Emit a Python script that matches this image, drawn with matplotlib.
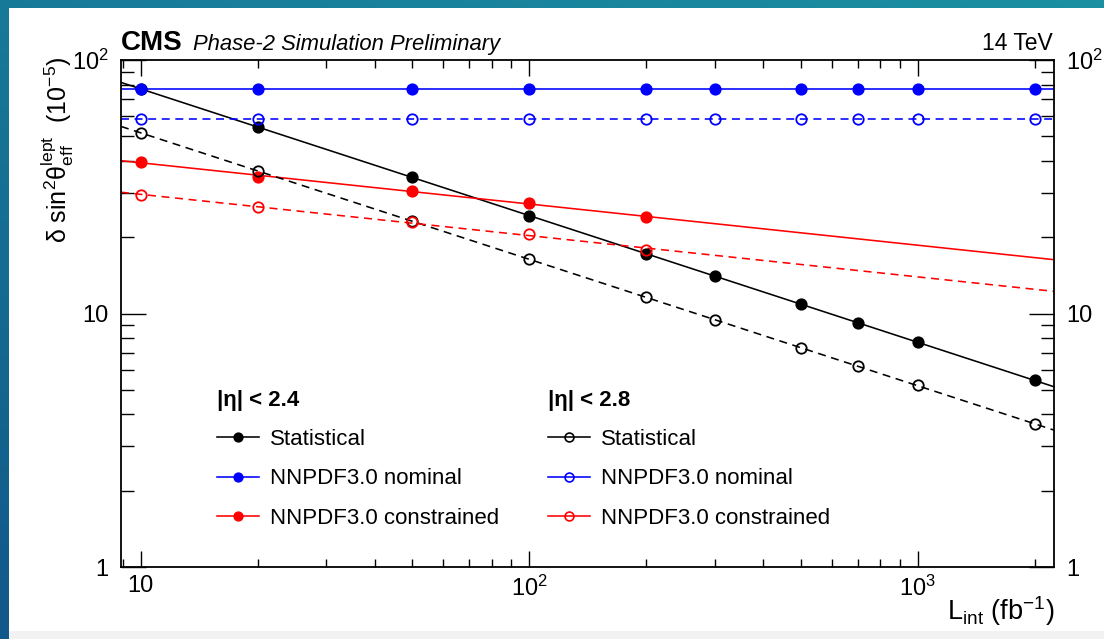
import numpy as np
import matplotlib
matplotlib.use("Agg")
import matplotlib.pyplot as plt
from matplotlib.lines import Line2D
from matplotlib.patches import Rectangle
from matplotlib.ticker import FixedLocator, FixedFormatter, NullFormatter, LogLocator

plt.rcParams['font.family'] = ['Liberation Sans', 'DejaVu Sans']
plt.rcParams['mathtext.fontset'] = 'custom'
plt.rcParams['mathtext.rm'] = 'Liberation Sans'
plt.rcParams['mathtext.it'] = 'Liberation Sans:italic'
plt.rcParams['mathtext.bf'] = 'Liberation Sans:bold'

# ---------------- data ----------------
lumi = [10, 20, 50, 100, 200, 300, 500, 700, 1000, 2000]
lumi_pdf_constr = [10, 20, 50, 100, 200]

stat_24 = [77, 54.5, 34.5, 24.2, 17.2, 14.0, 10.9, 9.2, 7.7, 5.45]
nominal_24 = [77, 77, 77, 77, 77, 77, 77, 77, 77, 77]
constr_24 = [39.6, 34.6, 30.4, 27.3, 24.0]

stat_28 = [51.5, 36.5, 23.2, 16.4, 11.6, 9.4, 7.3, 6.2, 5.2, 3.67]
nominal_28 = [58.5, 58.5, 58.5, 58.5, 58.5, 58.5, 58.5, 58.5, 58.5, 58.5]
constr_28 = [29.3, 26.3, 23.0, 20.6, 17.8]

legend_labels = ["Statistical", "NNPDF3.0 nominal", "NNPDF3.0 constrained"]
xtick_vals = [10, 100, 1000]
xtick_labels = ["10", "$10^{2}$", "$10^{3}$"]
ytick_vals = [1, 10, 100]
ytick_labels = ["1", "10", "$10^{2}$"]

xlim = (8.9, 2240)
ylim = (1, 100)

W, H = 1104, 639
fig = plt.figure(figsize=(W / 100, H / 100), dpi=100)

# background gradient + white panel
bg = fig.add_axes([0, 0, 1, 1], zorder=-5)
bg.set_axis_off()
gy, gx = np.mgrid[0:1:200j, 0:1:200j]
t = np.clip(0.6 * gy + 0.4 * (1 - gx), 0, 1)  # 0 top-right, 1 bottom-left
c_top = np.array([0x1b, 0x90, 0xa2]) / 255
c_bot = np.array([0x12, 0x58, 0x8a]) / 255
img = c_top[None, None, :] * (1 - t[..., None]) + c_bot[None, None, :] * t[..., None]
bg.imshow(img, extent=[0, 1, 0, 1], aspect='auto', origin='upper')
bg.add_patch(Rectangle((9 / W, 0), 1, 1 - 8 / H, transform=bg.transAxes,
                       facecolor='white', edgecolor='none'))
bg.add_patch(Rectangle((9 / W, 0), 1, 8 / H, transform=bg.transAxes,
                       facecolor='#f2f2f2', edgecolor='none'))
bg.set_xlim(0, 1)
bg.set_ylim(0, 1)

ax = fig.add_axes([121 / W, 1 - 567 / H, (1054 - 121) / W, (567 - 60) / H])
ax.set_xscale('log')
ax.set_yscale('log')
ax.set_xlim(*xlim)
ax.set_ylim(*ylim)

lw = 1.15
ms = 7.5


def fit_line(x, y):
    p = np.polyfit(np.log10(x), np.log10(y), 1)
    xx = np.array(xlim)
    return xx, 10 ** np.polyval(p, np.log10(xx))


series = [
    (lumi, stat_24, 'black', '-', True),
    (lumi, nominal_24, '#0000ff', '-', True),
    (lumi_pdf_constr, constr_24, '#ff0000', '-', True),
    (lumi, stat_28, 'black', '--', False),
    (lumi, nominal_28, '#0000ff', '--', False),
    (lumi_pdf_constr, constr_28, '#ff0000', '--', False),
]
for x, y, c, ls, filled in series:
    xx, yy = fit_line(x, y)
    if ls == '--':
        ax.plot(xx, yy, color=c, lw=lw, dashes=(5, 3.5), zorder=2)
    else:
        ax.plot(xx, yy, color=c, lw=lw, zorder=2)
    ax.plot(x, y, linestyle='none', marker='o', ms=ms,
            markerfacecolor=c if filled else 'none', markeredgecolor=c,
            markeredgewidth=1.3, zorder=3)

# ticks
ax.xaxis.set_major_locator(FixedLocator(xtick_vals))
ax.xaxis.set_major_formatter(FixedFormatter(xtick_labels))
ax.xaxis.set_minor_locator(LogLocator(base=10, subs=np.arange(2, 10)))
ax.xaxis.set_minor_formatter(NullFormatter())
ax.yaxis.set_major_locator(FixedLocator(ytick_vals))
ax.yaxis.set_major_formatter(FixedFormatter(ytick_labels))
ax.yaxis.set_minor_locator(LogLocator(base=10, subs=np.arange(2, 10)))
ax.yaxis.set_minor_formatter(NullFormatter())

ax.tick_params(which='both', direction='in', top=True, right=True,
               labelright=True, width=1.0, labelsize=17, colors='black')
ax.tick_params(axis='x', which='major', length=11.5, pad=6)
ax.tick_params(axis='x', which='minor', length=5.8)
ax.tick_params(axis='y', which='major', length=18, pad=9)
ax.tick_params(axis='y', which='minor', length=9.4)
for s in ax.spines.values():
    s.set_linewidth(1.3)

# axis titles
fig.text(57 / W, 1 - 57 / H,
         r'δ sin$^{2}$$\mathrm{θ}^{\mathrm{lept}}_{\mathrm{eff}}$  (10$^{-5}$)',
         rotation=90, ha='center', va='top', fontsize=18)
fig.text(1054 / W, 1 - 611 / H, r'L$_{\mathrm{int}}$ (fb$^{-1}$)',
         ha='right', va='center', fontsize=19.5)

# header
fig.text(121 / W, 1 - 50 / H, 'CMS', fontsize=20, fontweight='bold',
         ha='left', va='baseline')
fig.text(193 / W, 1 - 50 / H, 'Phase-2 Simulation Preliminary', fontsize=15.8,
         style='italic', ha='left', va='baseline')
fig.text(1053 / W, 1 - 50 / H, '14 TeV', fontsize=16.5, ha='right', va='baseline')

# legends
h_filled = [Line2D([], [], color=c, lw=lw, marker='o', ms=ms * 0.85,
                   markerfacecolor=c, markeredgecolor=c)
            for c in ['black', '#0000ff', '#ff0000']]
h_open = [Line2D([], [], color=c, lw=lw, marker='o', ms=ms * 0.85,
                 markerfacecolor='none', markeredgecolor=c, markeredgewidth=1.2)
          for c in ['black', '#0000ff', '#ff0000']]

common = dict(loc='upper left', frameon=False, fontsize=16, handlelength=1.9,
              handletextpad=0.5, labelspacing=0.82, borderpad=0, borderaxespad=0,
              bbox_transform=fig.transFigure, alignment='left',
              title_fontproperties={'weight': 'bold', 'size': 16})
leg1 = ax.legend(h_filled, legend_labels, title='|η| < 2.4',
                 bbox_to_anchor=(217 / W, 1 - 390 / H), **common)
ax.add_artist(leg1)
leg2 = ax.legend(h_open, legend_labels, title='|η| < 2.8',
                 bbox_to_anchor=(548 / W, 1 - 390 / H), **common)

fig.savefig('out.png', dpi=100)
